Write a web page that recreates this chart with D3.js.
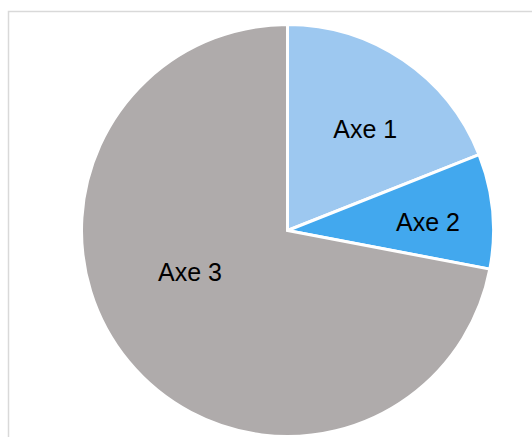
<!DOCTYPE html>
<html><head><meta charset="utf-8">
<script src="https://cdn.jsdelivr.net/npm/d3@7"></script>
<style>html,body{margin:0;padding:0;background:#fff;overflow:hidden}</style>
</head><body>
<svg id="c" width="532" height="437"></svg>
<script>
const categories = ["Axe 1", "Axe 2", "Axe 3"];
const values = [19, 9, 72];
const colors = ["#9DC8F0", "#42A8EE", "#AFABAB"];

const svg = d3.select("#c");
svg.append("rect").attr("x", 8.5).attr("y", 11.5).attr("width", 700).attr("height", 700)
  .attr("fill", "#fff").attr("stroke", "#d9d9d9").attr("stroke-width", 1.5);

const cx = 287.5, cy = 230.5, R = 206;
const g = svg.append("g").attr("transform", `translate(${cx},${cy})`);
const pie = d3.pie().sort(null).value(d => d)(values);
const arc = d3.arc().innerRadius(0).outerRadius(R);
const color = d3.scaleOrdinal().domain(categories).range(colors);

g.selectAll("path").data(pie).enter().append("path")
  .attr("d", arc).attr("fill", (d, i) => color(categories[i]))
  .attr("stroke", "#fff").attr("stroke-width", 3).attr("stroke-linejoin", "miter");

// label placement (Excel best-fit approximations)
const labelRadius = [0.62, 0.69, 0.52];
const labelShift = [[6, 4], [-1, 5], [-15, -27]];
g.selectAll("text").data(pie).enter().append("text")
  .attr("transform", (d, i) => {
    const r = R * labelRadius[i];
    const c = d3.arc().innerRadius(r).outerRadius(r).centroid(d);
    return `translate(${c[0] + labelShift[i][0]},${c[1] + labelShift[i][1]})`;
  })
  .attr("text-anchor", "middle").attr("dy", "0.35em")
  .attr("font-family", "Liberation Sans, Arial, sans-serif").attr("font-size", 25)
  .attr("fill", "#000").text((d, i) => categories[i]);
</script>
</body></html>
